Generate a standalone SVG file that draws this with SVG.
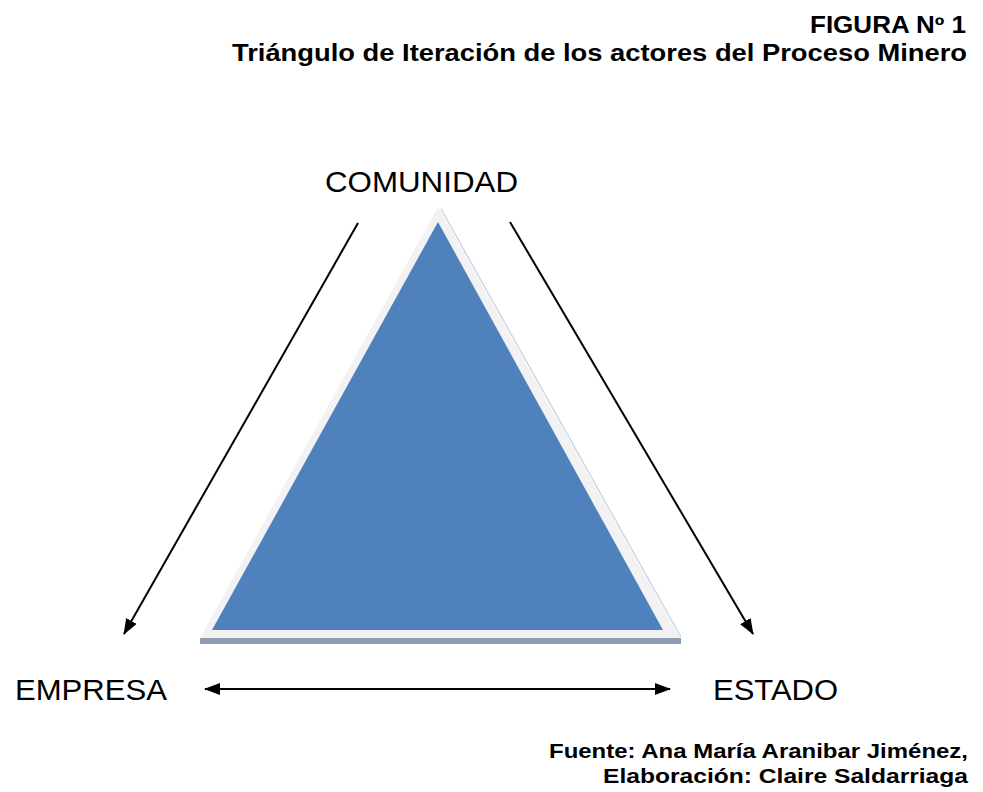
<svg xmlns="http://www.w3.org/2000/svg" width="983" height="792" viewBox="0 0 983 792">
<style>
.lbl{font-family:"Liberation Sans",Arial,sans-serif;font-size:30px;fill:#000}
.ttl{font-family:"Liberation Sans",Arial,sans-serif;font-weight:bold;fill:#000;text-anchor:end}
.con{stroke:#000;stroke-width:2;fill:none}
</style>
<defs>
<marker id="ah" viewBox="0 0 16 12" refX="15" refY="6" markerWidth="16" markerHeight="12" markerUnits="userSpaceOnUse" orient="auto-start-reverse">
<path d="M0,0 L16,6 L0,12 Z" fill="#000"/>
</marker>
</defs>
<rect width="983" height="792" fill="#fff"/>
<g id="title">
<text class="ttl" x="966" y="33" font-size="23" textLength="156" lengthAdjust="spacingAndGlyphs">FIGURA Nº 1</text>
<text class="ttl" x="967" y="61" font-size="23" textLength="735" lengthAdjust="spacingAndGlyphs">Triángulo de Iteración de los actores del Proceso Minero</text>
</g>
<g id="triangle">
<rect x="200" y="638" width="481" height="6" fill="#8d9caf"/>
<polygon points="438,207 200,638 680,638" fill="#f2f2f2"/>
<line x1="441" y1="209" x2="681" y2="637" stroke="#cdd6e6" stroke-width="1.5"/>
<polygon points="438,222 212,630 663,630" fill="#4f81bd"/>
</g>
<g id="comunidad"><text class="lbl" x="325" y="192" textLength="193" lengthAdjust="spacingAndGlyphs">COMUNIDAD</text></g>
<g id="empresa"><text class="lbl" x="15" y="700" textLength="152" lengthAdjust="spacingAndGlyphs">EMPRESA</text></g>
<g id="estado"><text class="lbl" x="713" y="700" textLength="125" lengthAdjust="spacingAndGlyphs">ESTADO</text></g>
<g id="connectors">
<line class="con" x1="358" y1="223" x2="124" y2="634" marker-end="url(#ah)"/>
<line class="con" x1="510" y1="222" x2="753" y2="634" marker-end="url(#ah)"/>
<line class="con" x1="205" y1="689" x2="670" y2="689" marker-start="url(#ah)" marker-end="url(#ah)"/>
</g>
<g id="source">
<text class="ttl" x="968" y="758" font-size="21" textLength="419" lengthAdjust="spacingAndGlyphs">Fuente: Ana María Aranibar Jiménez,</text>
<text class="ttl" x="968" y="783" font-size="21" textLength="365" lengthAdjust="spacingAndGlyphs">Elaboración: Claire Saldarriaga</text>
</g>
</svg>
